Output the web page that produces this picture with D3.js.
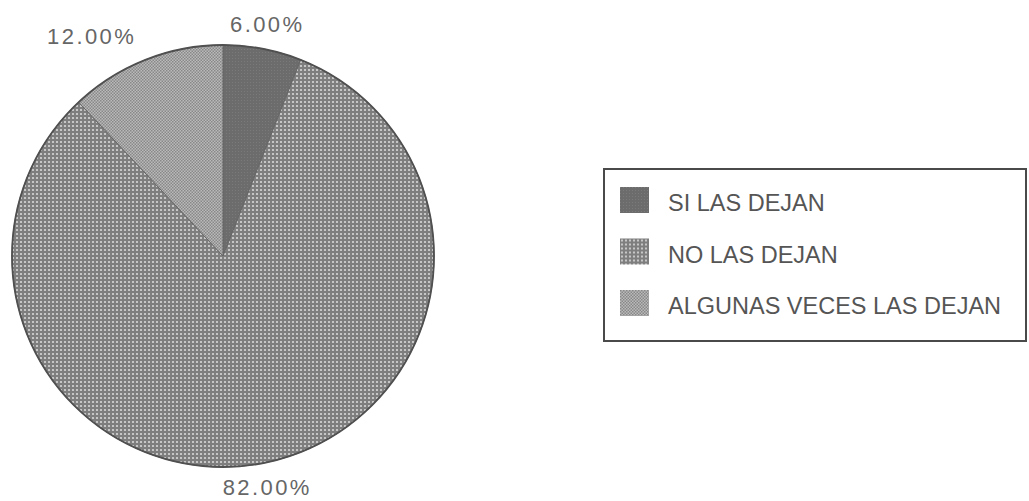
<!DOCTYPE html>
<html>
<head>
<meta charset="utf-8">
<script src="https://cdn.jsdelivr.net/npm/d3@7"></script>
<style>
  body { margin: 0; background: #fff; }
  svg { display: block; }
</style>
</head>
<body>
<div id="chart"></div>
<script>
const categories = ["SI LAS DEJAN", "NO LAS DEJAN", "ALGUNAS VECES LAS DEJAN"];
const values = [6, 82, 12];
const labels = ["6.00%", "82.00%", "12.00%"];

const width = 1029;
const height = 501;
const cx = 223;
const cy = 256;
const radius = 211;

const svg = d3.select("#chart")
  .append("svg")
  .attr("width", width)
  .attr("height", height);

const defs = svg.append("defs");

// solid-ish dark fill
const pSolid = defs.append("pattern")
  .attr("id", "p0")
  .attr("patternUnits", "userSpaceOnUse")
  .attr("width", 3).attr("height", 3);
pSolid.append("rect").attr("width", 3).attr("height", 3).attr("fill", "#6c6c6c");
pSolid.append("rect").attr("width", 1).attr("height", 1).attr("fill", "#7a7a7a");

// dotted pattern
const pDots = defs.append("pattern")
  .attr("id", "p1")
  .attr("patternUnits", "userSpaceOnUse")
  .attr("width", 4).attr("height", 4);
pDots.append("rect").attr("width", 4).attr("height", 4).attr("fill", "#7e7e7e");
pDots.append("circle").attr("cx", 2).attr("cy", 2).attr("r", 1.1).attr("fill", "#d8d8d8");

// checker pattern
const pCheck = defs.append("pattern")
  .attr("id", "p2")
  .attr("patternUnits", "userSpaceOnUse")
  .attr("width", 3).attr("height", 3);
pCheck.append("rect").attr("width", 3).attr("height", 3).attr("fill", "#bababa");
pCheck.append("rect").attr("width", 1.5).attr("height", 1.5).attr("fill", "#888");
pCheck.append("rect").attr("x", 1.5).attr("y", 1.5).attr("width", 1.5).attr("height", 1.5).attr("fill", "#888");

const fills = ["url(#p0)", "url(#p1)", "url(#p2)"];

const pie = d3.pie().sort(null).value(d => d);
const arcs = pie(values);

const arc = d3.arc().innerRadius(0).outerRadius(radius);

const g = svg.append("g")
  .attr("transform", `translate(${cx},${cy})`);

g.selectAll(".slice")
  .data(arcs)
  .enter()
  .append("path")
  .attr("class", "slice")
  .attr("d", arc)
  .attr("fill", (d, i) => fills[i])
  .attr("stroke", "#666")
  .attr("stroke-width", 1);

g.append("circle")
  .attr("r", radius)
  .attr("fill", "none")
  .attr("stroke", "#505050")
  .attr("stroke-width", 1.8);

// Percentage labels
const labelRadius = 236;
g.selectAll(".pct")
  .data(arcs)
  .enter()
  .append("text")
  .attr("class", "pct")
  .attr("x", d => Math.sin((d.startAngle + d.endAngle) / 2) * labelRadius)
  .attr("y", d => -Math.cos((d.startAngle + d.endAngle) / 2) * labelRadius)
  .attr("text-anchor", d => Math.sin((d.startAngle + d.endAngle) / 2) < -0.2 ? "end" : "middle")
  .attr("dominant-baseline", "central")
  .style("font-family", "Arial, 'Liberation Sans', sans-serif")
  .style("font-size", "22px")
  .style("letter-spacing", "2.4px")
  .style("fill", "#666")
  .text((d, i) => labels[i]);

// Legend
const legend = svg.append("g");

legend.append("rect")
  .attr("x", 604)
  .attr("y", 169)
  .attr("width", 422)
  .attr("height", 172)
  .attr("fill", "#fff")
  .attr("stroke", "#4a4a4a")
  .attr("stroke-width", 2);

const rows = legend.selectAll(".row")
  .data(categories)
  .enter()
  .append("g")
  .attr("class", "row")
  .attr("transform", (d, i) => `translate(620, ${187 + i * 51.5})`);

rows.append("rect")
  .attr("width", 29)
  .attr("height", 26)
  .attr("fill", (d, i) => fills[i]);

rows.append("text")
  .attr("x", 48)
  .attr("y", 24)
  .style("font-family", "Arial, 'Liberation Sans', sans-serif")
  .style("font-size", "23.5px")
  .style("fill", "#555")
  .text(d => d);
</script>
</body>
</html>
